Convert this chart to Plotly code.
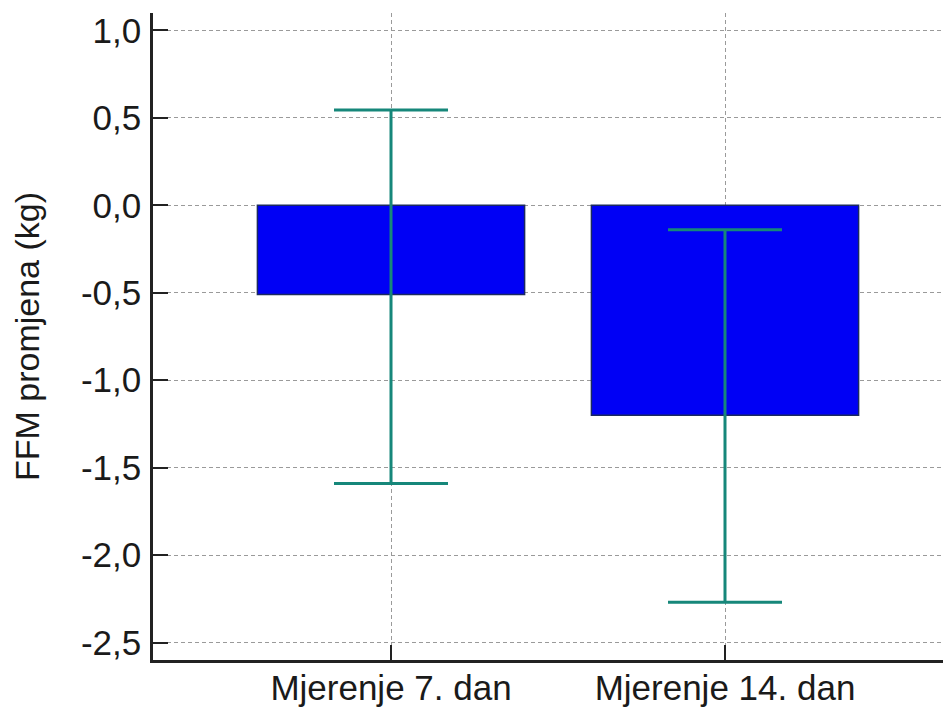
import plotly.graph_objects as go

categories = ["Mjerenje 7. dan", "Mjerenje 14. dan"]
means = [-0.51, -1.20]
upper = [0.545, -0.14]
lower = [-1.59, -2.27]
ytick_vals = [1.0, 0.5, 0.0, -0.5, -1.0, -1.5, -2.0, -2.5]
ytick_text = ["1,0", "0,5", "0,0", "-0,5", "-1,0", "-1,5", "-2,0", "-2,5"]

err_plus = [u - m for u, m in zip(upper, means)]
err_minus = [m - l for m, l in zip(means, lower)]

font_family = "Liberation Sans, Arial, sans-serif"

fig = go.Figure()
fig.add_trace(go.Bar(
    x=[0, 1], y=means, width=0.8,
    marker=dict(color="#0000F5", line=dict(color="#1b2a60", width=1.5)),
    error_y=dict(type="data", symmetric=False, array=err_plus, arrayminus=err_minus,
                 color="#16877A", thickness=3, width=57),
    showlegend=False,
))

fig.update_layout(
    width=951, height=708,
    margin=dict(l=145, r=0, t=5, b=56),
    paper_bgcolor="white", plot_bgcolor="white",
    font=dict(family=font_family, size=35, color="#1a1a1a"),
    bargap=0.2,
)
fig.update_xaxes(
    range=[-0.7126, 1.7006], automargin=False,
    tickvals=[0, 1], ticktext=categories,
    ticks="inside", ticklen=15, tickwidth=2, tickcolor="#222",
    showline=True, linecolor="#222", linewidth=2.5,
    showgrid=True, gridcolor="#9a9a9a", gridwidth=1, griddash="4px,3px",
    zeroline=False, ticklabelstandoff=-5,
)
fig.update_yaxes(
    range=[-2.6, 1.1], automargin=False,
    tickvals=ytick_vals, ticktext=ytick_text,
    ticks="inside", ticklen=15, tickwidth=2, tickcolor="#222",
    showline=True, linecolor="#222", linewidth=2.5,
    showgrid=True, gridcolor="#9a9a9a", gridwidth=1, griddash="4px,3px",
    zeroline=False, ticklabelstandoff=2,
    title=dict(text="FFM promjena (kg)", standoff=39, font=dict(size=34)),
)

fig.write_html("out.html")
